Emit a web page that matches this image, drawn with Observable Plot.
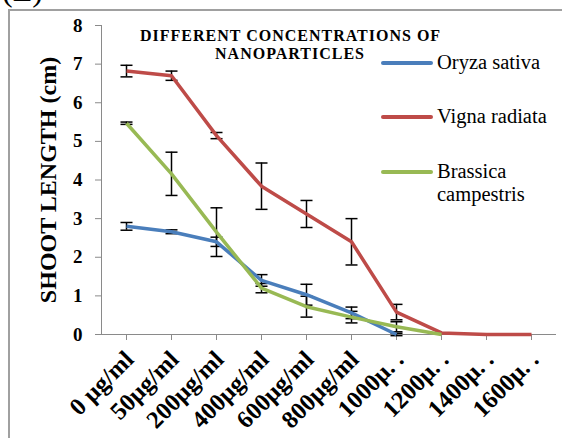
<!DOCTYPE html>
<html>
<head>
<meta charset="utf-8">
<script src="https://cdn.jsdelivr.net/npm/d3@7"></script>
<script src="https://cdn.jsdelivr.net/npm/@observablehq/plot@0.6"></script>
<style>
  html, body { margin: 0; padding: 0; background: #fff; }
  #wrap { position: relative; width: 562px; height: 438px; overflow: hidden; font-family: "Liberation Serif", serif; }
  #frame { position: absolute; left: 8px; top: 9px; width: 556px; height: 440px; border: 2px solid #a0a0a0; box-sizing: border-box; }
  #tag { position: absolute; left: 2px; top: -28px; font-size: 32px; color: #000; }
  #title { position: absolute; left: 140px; top: 27px; width: 300px; text-align: center; font-weight: bold; font-size: 16px; letter-spacing: 1px; line-height: 18px; white-space: nowrap; }
  .leg { position: absolute; left: 381px; font-size: 20.5px; line-height: 23px; }
  .leg .sw { position: absolute; left: 0; width: 52px; height: 4px; border-radius: 2px; }
  .leg .tx { position: absolute; left: 56px; white-space: nowrap; }
  svg { position: absolute; left: 0; top: 0; }
</style>
</head>
<body>
<div id="wrap">
  <div id="frame"></div>
  <div id="tag">(E)</div>
</div>
<script>
const categories = ["0 µg/ml", "50µg/ml", "200µg/ml", "400µg/ml", "600µg/ml", "800µg/ml", "1000µ. .", "1200µ. .", "1400µ. .", "1600µ. ."];
const seriesNames = ["Oryza sativa", "Vigna radiata", "Brassica campestris"];
const seriesColors = ["#4a7ebb", "#be4b48", "#98b954"];
const oryza    = [2.80, 2.66, 2.40, 1.40, 1.03, 0.56, 0.00, null, null, null];
const oryzaErr = [0.10, 0.05, 0.12, 0.15, 0.27, 0.15, 0.03, null, null, null];
const vigna    = [6.82, 6.70, 5.15, 3.84, 3.12, 2.40, 0.58, 0.04, 0.00, 0.00];
const vignaErr = [0.15, 0.12, 0.08, 0.60, 0.35, 0.60, 0.20, 0.00, 0.00, 0.00];
const brassica    = [5.47, 4.16, 2.65, 1.20, 0.72, 0.45, 0.20, 0.00, null, null];
const brassicaErr = [0.03, 0.56, 0.63, 0.12, 0.27, 0.15, 0.13, 0.00, null, null];
const yTicks = [0, 1, 2, 3, 4, 5, 6, 7, 8];
const titleLines = ["DIFFERENT CONCENTRATIONS OF", "NANOPARTICLES"];
const yLabel = "SHOOT LENGTH (cm)";

const values = [oryza, vigna, brassica];
const errs = [oryzaErr, vignaErr, brassicaErr];
const rows = [];
values.forEach((arr, s) => arr.forEach((v, i) => {
  if (v != null) rows.push({series: seriesNames[s], cat: categories[i], v, e: errs[s][i]});
}));
const errRows = rows.filter(d => d.e > 0);
const caps = errRows.flatMap(d => [{cat: d.cat, y: d.v - d.e}, {cat: d.cat, y: d.v + d.e}]);
const capSymbol = {draw(ctx) { ctx.moveTo(-6, 0); ctx.lineTo(6, 0); }};

const font = "Liberation Serif";
const plot = Plot.plot({
  width: 562,
  height: 438,
  marginLeft: 101,
  marginRight: 6,
  marginTop: 25,
  marginBottom: 104,
  style: {fontFamily: font, background: "transparent", overflow: "visible"},
  x: {type: "point", domain: categories, padding: 0.5, label: null},
  y: {domain: [0, 8], label: null},
  color: {domain: seriesNames, range: seriesColors},
  marks: [
    Plot.frame({anchor: "left", stroke: "#8a8a8a"}),
    Plot.ruleY([0], {stroke: "#8a8a8a"}),
    Plot.axisY(yTicks, {tickSize: 6, tickPadding: 13, stroke: "#8a8a8a", fill: "black", fontSize: 19, fontWeight: "bold", label: null}),
    Plot.axisX({tickSize: 6, text: null, stroke: "#8a8a8a", label: null}),
    Plot.axisX({tickSize: 0, tickPadding: 21, dx: 3, tickRotate: -45, fill: "black", fontSize: 24.5, fontWeight: "bold", label: null}),
    Plot.text([yLabel], {frameAnchor: "left", dx: -53, rotate: -90, textAnchor: "middle", fontSize: 24, fontWeight: "bold", fill: "black"}),
    Plot.ruleX(errRows, {x: "cat", y1: d => d.v - d.e, y2: d => d.v + d.e, stroke: "black", strokeWidth: 1.5}),
    Plot.dot(caps, {x: "cat", y: "y", symbol: capSymbol, stroke: "black", fill: "none", strokeWidth: 1.5}),
    Plot.line(rows, {x: "cat", y: "v", z: "series", stroke: "series", strokeWidth: 3.5, strokeLinejoin: "round", strokeLinecap: "butt"})
  ]
});
const wrap = document.getElementById("wrap");
wrap.appendChild(plot);

const title = document.createElement("div");
title.id = "title";
title.innerHTML = titleLines.join("<br>");
wrap.appendChild(title);

const legTops = [63, 117, 172];
seriesNames.forEach((name, i) => {
  const g = document.createElement("div");
  g.className = "leg";
  g.style.top = legTops[i] + "px";
  const sw = document.createElement("div");
  sw.className = "sw";
  sw.style.background = seriesColors[i];
  sw.style.top = "-2px";
  const tx = document.createElement("div");
  tx.className = "tx";
  tx.style.top = "-12px";
  tx.innerHTML = name === "Brassica campestris" ? "Brassica<br>campestris" : name;
  g.appendChild(sw); g.appendChild(tx);
  wrap.appendChild(g);
});
</script>
</body>
</html>
